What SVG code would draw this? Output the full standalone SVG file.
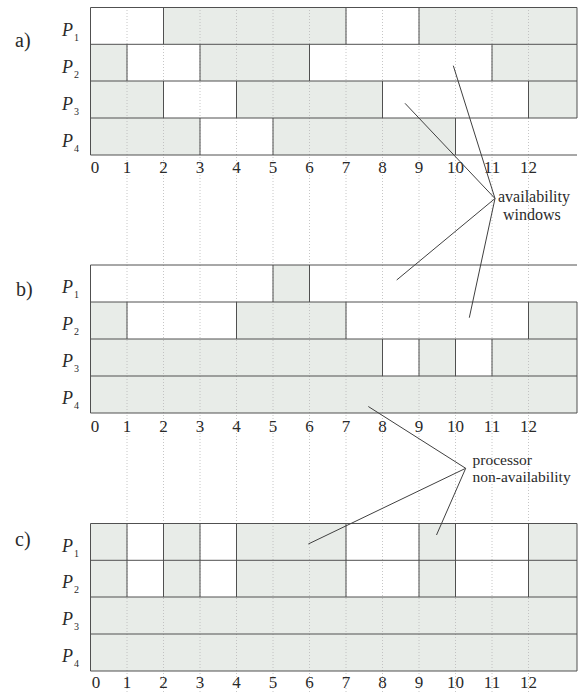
<svg xmlns="http://www.w3.org/2000/svg" width="581" height="692" viewBox="0 0 581 692" font-family="'Liberation Serif', 'Times New Roman', serif">
<style>
text{font-family:'Liberation Serif','Times New Roman',serif;fill:#2a2a2a}
.g{fill:#e8ece8;stroke:none}
.ln{stroke:#505050;stroke-width:1;fill:none}
.grid{stroke:#b8b8b8;stroke-width:0.8;stroke-dasharray:1 2}
.num{font-size:17px;text-anchor:middle}
.p{font-size:18px;font-style:italic}
.s{font-size:10px;font-style:normal}
.lbl{font-size:20px}
.ann{font-size:16px}
.ann2{font-size:15.5px}
.cn{stroke:#404040;stroke-width:1;fill:none}
</style>
<rect width="581" height="692" fill="#ffffff"/>

<g id="chart-a">
  <g id="a-fills">
    <rect class="g" x="163.5" y="7.5" width="182.5" height="36.8"/>
    <rect class="g" x="419" y="7.5" width="158" height="36.8"/>
    <rect class="g" x="90.5" y="44.3" width="36.5" height="36.7"/>
    <rect class="g" x="200" y="44.3" width="109.5" height="36.7"/>
    <rect class="g" x="492" y="44.3" width="85" height="36.7"/>
    <rect class="g" x="90.5" y="81" width="73" height="37"/>
    <rect class="g" x="236.5" y="81" width="146" height="37"/>
    <rect class="g" x="528.5" y="81" width="48.5" height="37"/>
    <rect class="g" x="90.5" y="118" width="109.5" height="37"/>
    <rect class="g" x="273" y="118" width="182.5" height="37"/>
  </g>
</g>
<g id="chart-b">
  <g id="b-fills">
    <rect class="g" x="273" y="265" width="36.5" height="37"/>
    <rect class="g" x="90.5" y="302" width="36.5" height="37"/>
    <rect class="g" x="236.5" y="302" width="109.5" height="37"/>
    <rect class="g" x="528.5" y="302" width="48.5" height="37"/>
    <rect class="g" x="90.5" y="339" width="292" height="37"/>
    <rect class="g" x="419" y="339" width="36.5" height="37"/>
    <rect class="g" x="492" y="339" width="85" height="37"/>
    <rect class="g" x="90.5" y="376" width="486.5" height="37"/>
  </g>
</g>
<g id="chart-c">
  <g id="c-fills">
    <rect class="g" x="90.5" y="523.5" width="36.5" height="73.5"/>
    <rect class="g" x="163.5" y="523.5" width="36.5" height="73.5"/>
    <rect class="g" x="236.5" y="523.5" width="109.5" height="73.5"/>
    <rect class="g" x="419" y="523.5" width="36.5" height="73.5"/>
    <rect class="g" x="528.5" y="523.5" width="48.5" height="73.5"/>
    <rect class="g" x="90.5" y="597" width="486.5" height="74"/>
  </g>
</g>

<g id="grid">
  <line class="grid" x1="127" y1="7" x2="127" y2="692"/>
  <line class="grid" x1="163.5" y1="7" x2="163.5" y2="692"/>
  <line class="grid" x1="200" y1="7" x2="200" y2="692"/>
  <line class="grid" x1="236.5" y1="7" x2="236.5" y2="692"/>
  <line class="grid" x1="273" y1="7" x2="273" y2="692"/>
  <line class="grid" x1="309.5" y1="7" x2="309.5" y2="692"/>
  <line class="grid" x1="346" y1="7" x2="346" y2="692"/>
  <line class="grid" x1="382.5" y1="7" x2="382.5" y2="692"/>
  <line class="grid" x1="419" y1="7" x2="419" y2="692"/>
  <line class="grid" x1="455.5" y1="7" x2="455.5" y2="692"/>
  <line class="grid" x1="492" y1="7" x2="492" y2="692"/>
  <line class="grid" x1="528.5" y1="7" x2="528.5" y2="692"/>
</g>

<g id="a-lines" class="ln">
  <path d="M90.5 7.5H577M90.5 44.3H577M90.5 81H577M90.5 118H577M90.5 155H577M90.5 7.5V155"/>
  <path d="M163.5 7.5V44.3M346 7.5V44.3M419 7.5V44.3M577 7.5V44.3"/>
  <path d="M127 44.3V81M200 44.3V81M309.5 44.3V81M492 44.3V81M577 44.3V81"/>
  <path d="M163.5 81V118M236.5 81V118M382.5 81V118M528.5 81V118M577 81V118"/>
  <path d="M200 118V155M273 118V155M455.5 118V155"/>
</g>
<g id="b-lines" class="ln">
  <path d="M90.5 265H577M90.5 302H577M90.5 339H577M90.5 376H577M90.5 413H577M90.5 265V413"/>
  <path d="M273 265V302M309.5 265V302"/>
  <path d="M127 302V339M236.5 302V339M346 302V339M528.5 302V339M577 302V339"/>
  <path d="M382.5 339V376M419 339V376M455.5 339V376M492 339V376M577 339V376"/>
  <path d="M577 376V413"/>
</g>
<g id="c-lines" class="ln">
  <path d="M90.5 523.5H577M90.5 560.3H577M90.5 597H577M90.5 634H577M90.5 671H577M90.5 523.5V671M577 523.5V671"/>
  <path d="M127 523.5V597M163.5 523.5V597M200 523.5V597M236.5 523.5V597M346 523.5V597M419 523.5V597M455.5 523.5V597M528.5 523.5V597"/>
</g>

<g id="labels">
  <text class="lbl" x="15" y="47">a)</text>
  <text class="lbl" x="16" y="296">b)</text>
  <text class="lbl" x="15" y="546">c)</text>

  <text class="p" x="62" y="36">P<tspan class="s" dx="1" dy="5">1</tspan></text>
  <text class="p" x="62" y="72.5">P<tspan class="s" dx="1" dy="5">2</tspan></text>
  <text class="p" x="62" y="109.5">P<tspan class="s" dx="1" dy="5">3</tspan></text>
  <text class="p" x="62" y="146.5">P<tspan class="s" dx="1" dy="5">4</tspan></text>

  <text class="p" x="62" y="293">P<tspan class="s" dx="1" dy="5">1</tspan></text>
  <text class="p" x="62" y="330">P<tspan class="s" dx="1" dy="5">2</tspan></text>
  <text class="p" x="62" y="367">P<tspan class="s" dx="1" dy="5">3</tspan></text>
  <text class="p" x="62" y="404">P<tspan class="s" dx="1" dy="5">4</tspan></text>

  <text class="p" x="62" y="551.5">P<tspan class="s" dx="1" dy="5">1</tspan></text>
  <text class="p" x="62" y="588">P<tspan class="s" dx="1" dy="5">2</tspan></text>
  <text class="p" x="62" y="625">P<tspan class="s" dx="1" dy="5">3</tspan></text>
  <text class="p" x="62" y="662">P<tspan class="s" dx="1" dy="5">4</tspan></text>
</g>

<g id="axis-a">
  <text class="num" x="95" y="173">0</text><text class="num" x="127" y="173">1</text><text class="num" x="163.5" y="173">2</text><text class="num" x="200" y="173">3</text><text class="num" x="236.5" y="173">4</text><text class="num" x="273" y="173">5</text><text class="num" x="309.5" y="173">6</text><text class="num" x="346" y="173">7</text><text class="num" x="382.5" y="173">8</text><text class="num" x="419" y="173">9</text><text class="num" x="455.5" y="173">10</text><text class="num" x="492" y="173">11</text><text class="num" x="528.5" y="173">12</text>
</g>
<g id="axis-b">
  <text class="num" x="95" y="432">0</text><text class="num" x="127" y="432">1</text><text class="num" x="163.5" y="432">2</text><text class="num" x="200" y="432">3</text><text class="num" x="236.5" y="432">4</text><text class="num" x="273" y="432">5</text><text class="num" x="309.5" y="432">6</text><text class="num" x="346" y="432">7</text><text class="num" x="382.5" y="432">8</text><text class="num" x="419" y="432">9</text><text class="num" x="455.5" y="432">10</text><text class="num" x="492" y="432">11</text><text class="num" x="528.5" y="432">12</text>
</g>
<g id="axis-c">
  <text class="num" x="96" y="688">0</text><text class="num" x="127" y="688">1</text><text class="num" x="163.5" y="688">2</text><text class="num" x="200" y="688">3</text><text class="num" x="236.5" y="688">4</text><text class="num" x="273" y="688">5</text><text class="num" x="309.5" y="688">6</text><text class="num" x="346" y="688">7</text><text class="num" x="382.5" y="688">8</text><text class="num" x="419" y="688">9</text><text class="num" x="455.5" y="688">10</text><text class="num" x="492" y="688">11</text><text class="num" x="528.5" y="688">12</text>
</g>

<g id="connectors">
  <line class="cn" x1="495" y1="198.5" x2="405" y2="103.3"/>
  <line class="cn" x1="495" y1="198.5" x2="453.3" y2="65.7"/>
  <line class="cn" x1="495" y1="198.5" x2="396.7" y2="280"/>
  <line class="cn" x1="495" y1="198.5" x2="469.3" y2="317.7"/>
  <line class="cn" x1="465.7" y1="468.3" x2="368.3" y2="406.5"/>
  <line class="cn" x1="465.7" y1="468.3" x2="308.3" y2="544"/>
  <line class="cn" x1="465.7" y1="468.3" x2="436.5" y2="535"/>
</g>

<g id="note-availability">
  <text class="ann" x="498" y="202">availability</text>
  <text class="ann" x="503" y="220">windows</text>
</g>
<g id="note-nonavailability">
  <text class="ann2" x="472.5" y="464.5">processor</text>
  <text class="ann2" x="472.5" y="482">non-availability</text>
</g>
</svg>
